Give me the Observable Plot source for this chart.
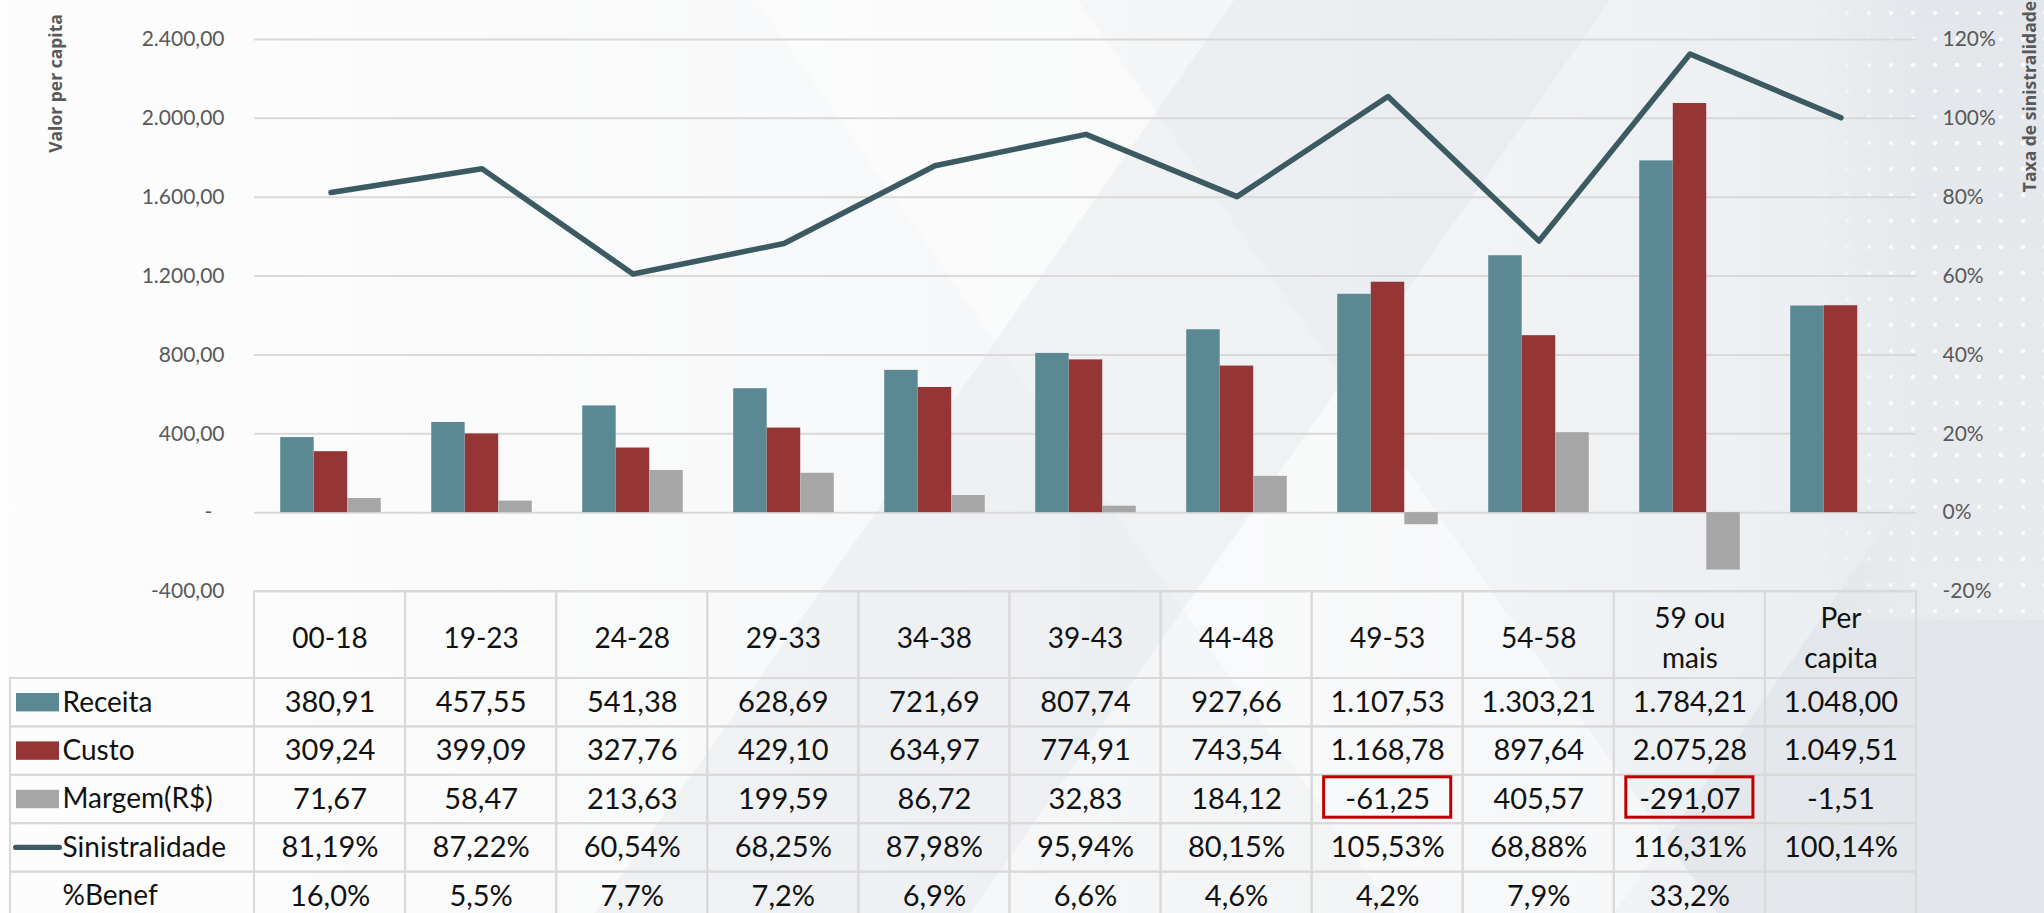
<!DOCTYPE html>
<html>
<head>
<meta charset="utf-8">
<script src="https://cdn.jsdelivr.net/npm/d3@7"></script>
<script src="https://cdn.jsdelivr.net/npm/@observablehq/plot@0.6"></script>
<style>
html, body { margin: 0; padding: 0; }
#wrap {
  position: relative; width: 2044px; height: 913px; overflow: hidden;
  background:
    linear-gradient(125deg, rgba(255,255,255,0) 0 46%, rgba(222,226,231,0.35) 46% 60%, rgba(255,255,255,0) 60%),
    linear-gradient(55deg, rgba(255,255,255,0) 0 52%, rgba(255,255,255,0.45) 52% 64%, rgba(255,255,255,0) 64%),
    linear-gradient(305deg, rgba(220,225,230,0.55) 0 16%, rgba(255,255,255,0) 16%),
    linear-gradient(90deg, #fdfdfd 0%, #f8f9fa 38%, #f1f3f5 72%, #e9ecef 100%);
}
#dots {
  position: absolute; right: 0; top: 0; width: 230px; height: 620px;
  background:
    radial-gradient(circle, rgba(255,255,255,0.9) 1.6px, rgba(255,255,255,0) 2.6px) 0 0 / 22px 26px,
    linear-gradient(180deg, #e3e7eb 0%, #e8ebee 100%);
  -webkit-mask-image: linear-gradient(90deg, rgba(0,0,0,0) 0%, rgba(0,0,0,1) 45%);
  mask-image: linear-gradient(90deg, rgba(0,0,0,0) 0%, rgba(0,0,0,1) 45%);
}
#wrap svg { position: absolute; left: 0; }
</style>
</head>
<body>
<div id="wrap"><div id="dots"></div></div>
<script>
// ---------- data ----------
const categories = ["00-18", "19-23", "24-28", "29-33", "34-38", "39-43", "44-48", "49-53", "54-58", "59 ou mais", "Per capita"];
const headerLabels = ["00-18", "19-23", "24-28", "29-33", "34-38", "39-43", "44-48", "49-53", "54-58", "59 ou\nmais", "Per\ncapita"];
const receita = [380.91, 457.55, 541.38, 628.69, 721.69, 807.74, 927.66, 1107.53, 1303.21, 1784.21, 1048.00];
const custo = [309.24, 399.09, 327.76, 429.10, 634.97, 774.91, 743.54, 1168.78, 897.64, 2075.28, 1049.51];
const margem = [71.67, 58.47, 213.63, 199.59, 86.72, 32.83, 184.12, -61.25, 405.57, -291.07, -1.51];
const sinistralidade = [81.19, 87.22, 60.54, 68.25, 87.98, 95.94, 80.15, 105.53, 68.88, 116.31, 100.14];
const benef = [16.0, 5.5, 7.7, 7.2, 6.9, 6.6, 4.6, 4.2, 7.9, 33.2, null];
const rowLabels = ["Receita", "Custo", "Margem(R$)", "Sinistralidade", "%Benef"];
const yTicks = [-400, 0, 400, 800, 1200, 1600, 2000, 2400];
const pctTicks = [-20, 0, 20, 40, 60, 80, 100, 120];
const highlighted = [{cat: "49-53", row: "Margem(R$)"}, {cat: "59 ou mais", row: "Margem(R$)"}];

// ---------- styles ----------
const cReceita = "#5a8994", cCusto = "#963535", cMargem = "#a6a6a6", cLine = "#3c5a62";
const grid = "#d9d9d9", axisColor = "#595959";
const pctToValue = 2400 / 120;

const loc = d3.formatLocale({decimal: ",", thousands: ".", grouping: [3], currency: ["R$ ", ""], minus: "-"});
const f2 = loc.format(",.2f");
const f1 = loc.format(".1f");

const W = 2044, ML = 254, MR = 128;
const colW = (W - ML - MR) / categories.length;
const bw = colW * 0.222, pad = (colW - 3 * bw) / 2;

const data = categories.map((c, i) => ({cat: c, receita: receita[i], custo: custo[i], margem: margem[i], sin: sinistralidade[i]}));

// ---------- chart ----------
const chart = Plot.plot({
  width: W, height: 613,
  marginLeft: ML, marginRight: MR, marginTop: 39, marginBottom: 22,
  style: {background: "transparent", overflow: "visible", fontFamily: "Lato, sans-serif", fontSize: "21px", color: axisColor},
  x: {type: "band", domain: categories, padding: 0, axis: null},
  y: {domain: [-400, 2400], ticks: yTicks, tickFormat: d => d === 0 ? "-\u2007" : f2(d), tickSize: 0, tickPadding: 30, label: null},
  marks: [
    Plot.ruleY(yTicks, {stroke: grid, strokeWidth: 2}),
    Plot.barY(data, {x: "cat", y: "receita", fill: cReceita, insetLeft: pad, insetRight: pad + 2 * bw}),
    Plot.barY(data, {x: "cat", y: "custo", fill: cCusto, insetLeft: pad + bw, insetRight: pad + bw}),
    Plot.barY(data, {x: "cat", y: "margem", fill: cMargem, insetLeft: pad + 2 * bw, insetRight: pad}),
    Plot.line(data, {x: "cat", y: d => d.sin * pctToValue, stroke: cLine, strokeWidth: 5.5}),
    Plot.text(pctTicks, {y: d => d * pctToValue, text: d => d + "%", frameAnchor: "right", dx: 26, textAnchor: "start", fill: axisColor, fontSize: 21}),
    Plot.text(["Valor per capita"], {text: d => d, frameAnchor: "top-left", dx: -198, dy: 44, rotate: -90, textAnchor: "middle", lineAnchor: "middle", fontWeight: "bold", fontSize: 17.5, fill: axisColor, fontFamily: "Open Sans"}),
    Plot.text(["Taxa de sinistralidade"], {text: d => d, frameAnchor: "top-right", dx: 114, dy: 57, rotate: -90, textAnchor: "middle", lineAnchor: "middle", fontWeight: "bold", fontSize: 17.5, fill: axisColor, fontFamily: "Open Sans"})
  ]
});
chart.style.top = "0px";

// ---------- table ----------
const rowH = 48.4, headerH = 87 / rowH, labelW = (ML - 10) / colW;
const rowValues = [
  receita.map(f2),
  custo.map(f2),
  margem.map(f2),
  sinistralidade.map(v => loc.format(".2f")(v) + "%"),
  benef.map(v => v == null ? "" : f1(v) + "%")
];
const cells = [];
rowValues.forEach((vals, r) => vals.forEach((t, i) => cells.push({r, i, t})));
const headers = headerLabels.map((t, i) => ({i, t}));
const labels = rowLabels.map((t, r) => ({r, t}));
const swatches = [{r: 0, c: cReceita}, {r: 1, c: cCusto}, {r: 2, c: cMargem}];
const boxes = highlighted.map(h => ({i: categories.indexOf(h.cat), r: rowLabels.indexOf(h.row)}));

const table = Plot.plot({
  width: W, height: 329,
  marginLeft: ML, marginRight: MR, marginTop: 87, marginBottom: 0,
  style: {background: "transparent", overflow: "visible", fontFamily: "Lato, sans-serif"},
  x: {domain: [0, categories.length], axis: null},
  y: {domain: [0, rowLabels.length], reverse: true, axis: null},
  marks: [
    Plot.rect(headers, {x1: d => d.i, x2: d => d.i + 1, y1: -headerH, y2: 0, stroke: grid, strokeWidth: 2, fill: "none"}),
    Plot.rect(cells, {x1: d => d.i, x2: d => d.i + 1, y1: d => d.r, y2: d => d.r + 1, stroke: grid, strokeWidth: 2, fill: "none"}),
    Plot.rect(labels, {x1: -labelW, x2: 0, y1: d => d.r, y2: d => d.r + 1, stroke: grid, strokeWidth: 2, fill: "none"}),
    Plot.rect(swatches, {x1: -labelW, x2: 0, y1: d => d.r, y2: d => d.r + 1, insetLeft: 6, insetRight: 195, insetTop: 15, insetBottom: 15, fill: d => d.c}),
    Plot.rect([{r: 3}], {x1: -labelW, x2: 0, y1: d => d.r, y2: d => d.r + 1, insetLeft: 3, insetRight: 192, insetTop: 21.5, insetBottom: 21.5, fill: cLine, rx: 2.5}),
    Plot.text(headers, {x: d => d.i + 0.5, y: -headerH / 2, text: "t", fontSize: 28, fill: "#111", lineHeight: 1.43}),
    Plot.text(cells, {x: d => d.i + 0.5, y: d => d.r + 0.5, text: "t", fontSize: 29, fill: "#111"}),
    Plot.text(labels, {x: -labelW, y: d => d.r + 0.5, dx: 52, text: "t", textAnchor: "start", fontSize: 28, fill: "#111"}),
    Plot.rect(boxes, {x1: d => d.i, x2: d => d.i + 1, y1: d => d.r, y2: d => d.r + 1, insetLeft: 12, insetRight: 12, insetTop: 2, insetBottom: 6, stroke: "#c00000", strokeWidth: 3, fill: "none"})
  ]
});
table.style.top = "591px";

const wrap = document.getElementById("wrap");
wrap.appendChild(chart);
wrap.appendChild(table);
</script>
</body>
</html>
